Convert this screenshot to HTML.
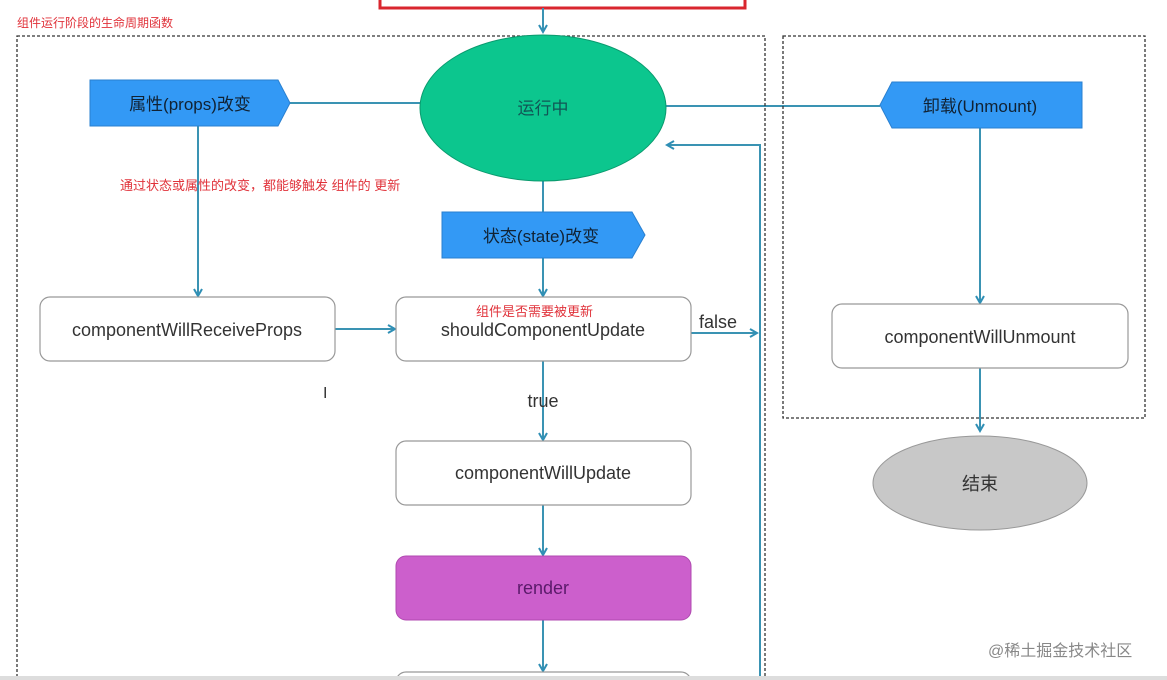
<!DOCTYPE html>
<html><head><meta charset="utf-8"><style>
html,body{margin:0;padding:0;background:#fff;width:1167px;height:680px;overflow:hidden}
svg{display:block}
text{font-family:"Liberation Sans","Noto Sans CJK SC",sans-serif}
</style></head><body>
<svg width="1167" height="680" viewBox="0 0 1167 680" xmlns="http://www.w3.org/2000/svg">
<defs>
<marker id="a" markerWidth="10" markerHeight="10" refX="8" refY="5" orient="auto" markerUnits="userSpaceOnUse">
<path d="M1,1 L8,5 L1,9" fill="none" stroke="#2f8fb5" stroke-width="2"/>
</marker>
</defs>
<rect x="380" y="-10" width="365" height="18" fill="none" stroke="#d9262e" stroke-width="3"/>
<g stroke="#3a93b3" stroke-width="2" fill="none">
<line x1="543" y1="8" x2="543" y2="32" marker-end="url(#a)"/>
<line x1="290" y1="103" x2="420" y2="103"/>
<line x1="666" y1="106" x2="880" y2="106"/>
<line x1="198" y1="126" x2="198" y2="296" marker-end="url(#a)"/>
<line x1="543" y1="181" x2="543" y2="212"/>
<line x1="543" y1="258" x2="543" y2="296" marker-end="url(#a)"/>
<line x1="335" y1="329" x2="395" y2="329" marker-end="url(#a)"/>
<line x1="691" y1="333" x2="757" y2="333" marker-end="url(#a)"/>
<polyline points="760,680 760,145 667,145" marker-end="url(#a)"/>
<line x1="543" y1="361" x2="543" y2="440" marker-end="url(#a)"/>
<line x1="543" y1="505" x2="543" y2="555" marker-end="url(#a)"/>
<line x1="543" y1="620" x2="543" y2="671" marker-end="url(#a)"/>
<line x1="980" y1="128" x2="980" y2="303" marker-end="url(#a)"/>
<line x1="980" y1="368" x2="980" y2="431" marker-end="url(#a)"/>
</g>
<rect x="17" y="36" width="748" height="660" fill="none" stroke="#333" stroke-width="1.3" stroke-dasharray="3,2"/>
<rect x="783" y="36" width="362" height="382" fill="none" stroke="#333" stroke-width="1.3" stroke-dasharray="3,2"/>
<text x="17" y="27" font-size="12" fill="#e0323a">组件运行阶段的生命周期函数</text>
<ellipse cx="543" cy="108" rx="123" ry="73" fill="#0cc68e" stroke="#0a9a6e" stroke-width="1"/>
<text x="543" y="114" font-size="17" fill="#155" text-anchor="middle">运行中</text>
<polygon points="90,80 278,80 290,103 278,126 90,126" fill="#3399f5" stroke="#2a80d0"/>
<text x="190" y="110" font-size="17" fill="#123" text-anchor="middle">属性(props)改变</text>
<polygon points="892,82 1082,82 1082,128 892,128 880,105" fill="#3399f5" stroke="#2a80d0"/>
<text x="980" y="112" font-size="17" fill="#123" text-anchor="middle">卸载(Unmount)</text>
<polygon points="442,212 632,212 645,235 632,258 442,258" fill="#3399f5" stroke="#2a80d0"/>
<text x="541" y="242" font-size="17" fill="#123" text-anchor="middle">状态(state)改变</text>
<text x="120" y="190" font-size="13" fill="#e0323a">通过状态或属性的改变，都能够触发 组件的 更新</text>
<g fill="#fff" stroke="#999" stroke-width="1.2">
<rect x="40" y="297" width="295" height="64" rx="10"/>
<rect x="396" y="297" width="295" height="64" rx="10"/>
<rect x="396" y="441" width="295" height="64" rx="10"/>
<rect x="832" y="304" width="296" height="64" rx="10"/>
<rect x="396" y="672" width="295" height="40" rx="10"/>
</g>
<rect x="396" y="556" width="295" height="64" rx="10" fill="#cc5fcc" stroke="#b04ab0"/>
<g font-size="18" fill="#333" text-anchor="middle">
<text x="187" y="336">componentWillReceiveProps</text>
<text x="543" y="336">shouldComponentUpdate</text>
<text x="543" y="479">componentWillUpdate</text>
<text x="543" y="594" fill="#5a1a6a">render</text>
<text x="980" y="343">componentWillUnmount</text>
<text x="543" y="407">true</text>
<text x="718" y="328">false</text>
</g>
<text x="476" y="316" font-size="13" fill="#e0323a">组件是否需要被更新</text>
<ellipse cx="980" cy="483" rx="107" ry="47" fill="#c8c8c8" stroke="#999"/>
<text x="980" y="490" font-size="18" fill="#333" text-anchor="middle">结束</text>
<text x="323" y="398" font-size="16" fill="#333">I</text>
<text x="988" y="656" font-size="16" fill="#888">@稀土掘金技术社区</text>
<rect x="0" y="676" width="1167" height="4" fill="#ddd"/>
</svg>
</body></html>
